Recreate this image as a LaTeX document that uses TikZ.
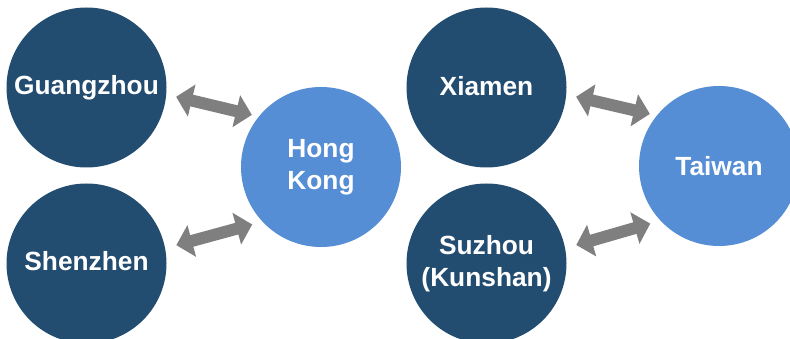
\documentclass[tikz,border=0pt]{standalone}
\usepackage{fontspec}
\setmainfont{Liberation Sans}
\usetikzlibrary{arrows.meta}
\definecolor{navy}{RGB}{35,77,112}
\definecolor{lblue}{RGB}{85,142,213}
\definecolor{agray}{RGB}{127,127,127}
\tikzset{
  city/.style={circle, fill=navy, minimum size=160pt, inner sep=0pt, text=white,
    font=\fontsize{26.3}{31.5}\selectfont\bfseries, align=center},
  hub/.style={city, fill=lblue},
  dbl/.style={draw=agray, line width=12pt,
    {Triangle[width=32pt,length=16pt]}-{Triangle[width=32pt,length=16pt]}}
}
\begin{document}
\begin{tikzpicture}[x=1pt,y=-1pt]
\useasboundingbox (0,0) rectangle (790,339);
\clip (0,0) rectangle (790,339);
\fill[white] (0,0) rectangle (790,339);
\node[city] (gz) at (86.5,87.5) {\raisebox{1.5pt}{Guangzhou}};
\node[city] (sz) at (86.5,263.5) {\raisebox{5pt}{Shenzhen}};
\node[hub] (hk) at (321,167) {Hong\\Kong};
\node[city] (xm) at (486.5,87.5) {\raisebox{4pt}{Xiamen}};
\node[city] (su) at (486.5,263.5) {\raisebox{3pt}{Suzhou}\\\raisebox{3pt}{(Kunshan)}};
\node[hub] (tw) at (719,166) {Taiwan};
\draw[dbl, shorten <=10pt, shorten >=7pt] (gz.-5) -- (hk.141);
\draw[dbl, shorten <=11.5pt, shorten >=10.5pt] (sz.11) -- (hk.223);
\draw[dbl, shorten <=10pt, shorten >=7pt] (xm.-5) -- (tw.141);
\draw[dbl, shorten <=11.5pt, shorten >=10.5pt] (su.11) -- (tw.223);
\end{tikzpicture}
\end{document}
